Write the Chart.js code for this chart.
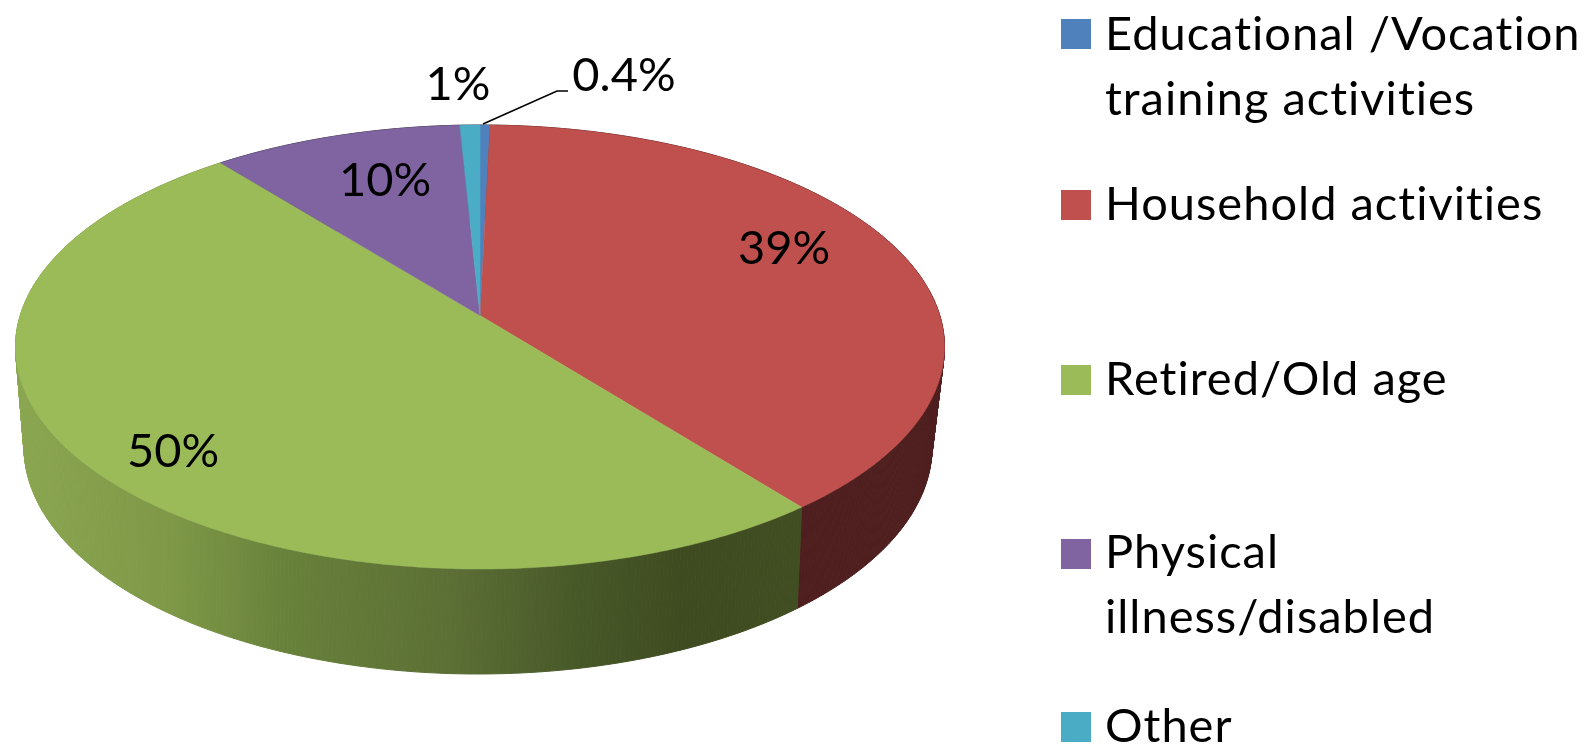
<!DOCTYPE html>
<html>
<head>
<meta charset="utf-8">
<style>html,body{margin:0;padding:0;background:#fff;overflow:hidden}canvas{display:block}</style>
<script src="https://cdn.jsdelivr.net/npm/chart.js@4/dist/chart.umd.min.js"></script>
</head>
<body>
<div style="width:1596px;height:747px"><canvas id="c" width="1596" height="747"></canvas></div>
<script>
// ---- data ----
const categories = ['Educational /Vocation training activities','Household activities','Retired/Old age','Physical illness/disabled','Other'];
const values = [0.4, 39, 50, 10, 0.8];
const valueLabels = ['0.4%','39%','50%','10%','1%'];
const colors = ['#4f81bd','#c0504d','#9bbb59','#8064a2','#4bacc6'];

// ---- layout / style ----
const FONT = 'Lato, Carlito, sans-serif';
const labelPos = [[624,76],[784,249],[173,452],[385,181],[458,85]];
const legendRows = [
  {lines:['Educational /Vocation','training activities'], box:19, base:[50,115]},
  {lines:['Household activities'], box:190, base:[220]},
  {lines:['Retired/Old age'], box:365, base:[395]},
  {lines:['Physical','illness/disabled'], box:539, base:[568,633]},
  {lines:['Other'], box:712, base:[742]}
];
function makeProj(top,bot,apex,rx,cx){
  const p=(2*apex-top-bot)/(bot-top);
  const a=bot*(1+p)-apex;
  const A=a-apex*p;
  const c=rx*Math.sqrt(1-p*p);
  return th=>{const u=Math.sin(th),v=-Math.cos(th),w=1+p*v;return [cx+c*u/w,apex+A*v/w];};
}
const topFace = makeProj(125,569,315.5,464.5,480);
const botFace = makeProj(220,674,410,454,478);

function sidePaint(ctx,i){
  if(i!==2) return i===1?'#4f1f1f':'#333';
  const g=ctx.createLinearGradient(20,0,800,0);
  [[0,'#8ba650'],[0.2,'#7d9747'],[0.35,'#67803a'],[0.55,'#5c6f35'],[0.72,'#475828'],[0.85,'#3e4b20'],[1,'#414e22']]
    .forEach(s=>g.addColorStop(s[0],s[1]));
  return g;
}
const pie3d = {
  id:'pie3d',
  beforeDatasetDraw(chart){
    const ctx=chart.ctx, arcs=chart.getDatasetMeta(0).data;
    const ang=a=>({s:a.startAngle+Math.PI/2,e:a.endAngle+Math.PI/2});
    // side walls: swept quads so the outline includes the straight tangent edges
    arcs.forEach((a,i)=>{
      const {s,e}=ang(a), n=Math.max(4,Math.ceil((e-s)*120));
      const paint=sidePaint(ctx,i);
      ctx.fillStyle=paint;ctx.strokeStyle=paint;ctx.lineWidth=1;
      for(let k=0;k<n;k++){
        const t0=s+(e-s)*k/n,t1=s+(e-s)*(k+1)/n;
        const A=topFace(t0),B=topFace(t1),C=botFace(t1),D=botFace(t0);
        ctx.beginPath();ctx.moveTo(A[0],A[1]);ctx.lineTo(B[0],B[1]);ctx.lineTo(C[0],C[1]);ctx.lineTo(D[0],D[1]);ctx.closePath();
        ctx.fill();
        ctx.stroke();
      }
    });
    // top surface
    const apex=[480,315.5];
    arcs.forEach((a,i)=>{
      const {s,e}=ang(a), n=Math.max(4,Math.ceil((e-s)*120));
      ctx.beginPath();ctx.moveTo(apex[0],apex[1]);
      for(let k=0;k<=n;k++){const q=topFace(s+(e-s)*k/n);ctx.lineTo(q[0],q[1]);}
      ctx.closePath();
      ctx.fillStyle=colors[i];ctx.fill();
      ctx.strokeStyle=colors[i];ctx.lineWidth=0.5;ctx.stroke();
    });
    return false;
  },
  afterDatasetsDraw(chart){
    const ctx=chart.ctx;
    ctx.save();
    // leader line
    ctx.strokeStyle='#000';ctx.lineWidth=1.6;
    ctx.beginPath();ctx.moveTo(483,124);ctx.lineTo(557,91);ctx.lineTo(568,91);ctx.stroke();
    // data labels
    ctx.fillStyle='#000';ctx.textBaseline='middle';ctx.textAlign='center';
    ctx.font='47px '+FONT;
    valueLabels.forEach((t,i)=>ctx.fillText(t,labelPos[i][0],labelPos[i][1]));
    // legend
    ctx.textAlign='left';ctx.textBaseline='alphabetic';ctx.font='47px '+FONT;ctx.letterSpacing='1px';
    legendRows.forEach((r,i)=>{
      ctx.fillStyle=colors[i];ctx.fillRect(1061,r.box,30,30);
      ctx.fillStyle='#000';
      r.lines.forEach((l,j)=>ctx.fillText(l,1105,r.base[j]));
    });
    ctx.letterSpacing='0px';
    ctx.restore();
  }
};
new Chart(document.getElementById('c'),{
  type:'pie',
  data:{labels:categories,datasets:[{data:values,backgroundColor:colors,borderWidth:0}]},
  options:{responsive:false,animation:false,events:[],
    plugins:{legend:{display:false},tooltip:{enabled:false}}},
  plugins:[pie3d]
});
</script>
</body>
</html>
